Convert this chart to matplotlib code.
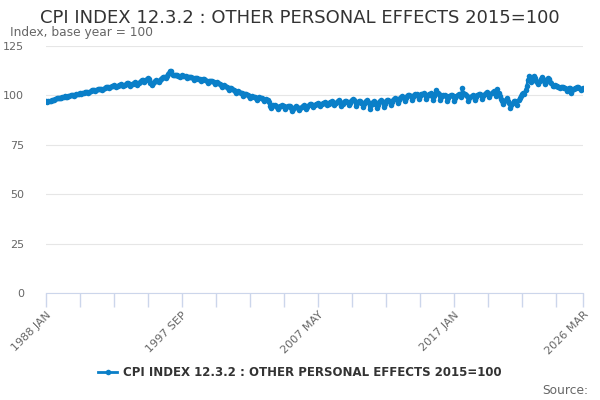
import numpy as np
import matplotlib
matplotlib.use('Agg')
import matplotlib.pyplot as plt

TITLE = 'CPI INDEX 12.3.2 : OTHER PERSONAL EFFECTS 2015=100'
SERIES_NAME = 'CPI INDEX 12.3.2 : OTHER PERSONAL EFFECTS 2015=100'

# monthly index values, 1988 JAN .. 2026 MAR
y1988 = [97.0, 96.8, 97.0, 97.2, 97.4, 97.6, 97.5, 97.9, 98.2, 98.5, 98.6, 98.8]
y1989 = [98.6, 98.9, 99.1, 99.3, 99.5, 99.4, 99.2, 99.6, 99.9, 100.1, 100.3, 100.2]
y1990 = [99.9, 100.2, 100.5, 100.7, 100.9, 101.0, 100.6, 101.0, 101.4, 101.6, 101.8, 101.7]
y1991 = [101.3, 101.8, 102.2, 102.5, 102.8, 102.6, 102.1, 102.7, 103.1, 103.4, 103.3, 103.2]
y1992 = [102.6, 103.2, 103.7, 104.0, 104.3, 104.1, 103.5, 104.2, 104.6, 104.9, 105.1, 104.8]
y1993 = [104.0, 104.7, 105.2, 105.5, 105.8, 105.4, 104.6, 105.3, 105.8, 106.1, 106.3, 106.0]
y1994 = [105.0, 105.6, 106.0, 106.4, 106.7, 106.3, 105.5, 106.3, 106.9, 107.4, 107.8, 107.6]
y1995 = [107.0, 107.8, 108.3, 108.6, 108.4, 106.5, 105.2, 106.3, 107.0, 107.4, 107.6, 107.3]
y1996 = [107.0, 107.8, 108.5, 109.0, 109.5, 109.3, 109.0, 110.0, 110.8, 111.5, 112.3, 112.6]
y1997 = [110.4, 110.2, 110.4, 110.5, 110.3, 110.0, 109.4, 109.8, 110.1, 110.0, 109.9, 109.6]
y1998 = [108.8, 109.2, 109.5, 109.4, 109.1, 108.7, 108.0, 108.6, 108.9, 108.8, 108.5, 108.2]
y1999 = [107.3, 107.9, 108.3, 108.1, 107.7, 107.2, 106.5, 107.1, 107.5, 107.4, 107.2, 106.9]
y2000 = [105.8, 106.4, 106.8, 106.5, 106.0, 105.3, 104.2, 104.9, 105.1, 104.6, 104.1, 103.8]
y2001 = [102.8, 103.5, 103.8, 103.4, 102.9, 102.3, 101.2, 101.9, 102.2, 101.8, 101.3, 101.0]
y2002 = [99.9, 100.6, 100.9, 100.5, 100.1, 99.6, 98.5, 99.3, 99.6, 99.3, 99.0, 98.8]
y2003 = [97.9, 98.6, 99.0, 98.8, 98.5, 98.0, 97.0, 97.8, 98.1, 97.6, 96.8, 94.5]
y2004 = [93.8, 94.5, 94.9, 95.1, 94.8, 94.3, 93.2, 94.0, 94.6, 95.0, 94.8, 94.5]
y2005 = [93.2, 94.0, 94.5, 94.8, 94.4, 93.6, 92.3, 93.3, 94.0, 94.4, 94.2, 93.8]
y2006 = [92.6, 93.6, 94.3, 94.8, 95.0, 94.4, 93.3, 94.3, 95.0, 95.4, 95.5, 95.1]
y2007 = [94.2, 95.0, 95.6, 95.9, 96.1, 95.5, 94.6, 95.5, 96.1, 96.4, 96.5, 96.1]
y2008 = [95.0, 95.9, 96.5, 96.8, 97.0, 96.3, 95.2, 96.2, 96.9, 97.3, 97.5, 96.9]
y2009 = [94.5, 95.8, 96.6, 97.1, 97.4, 96.6, 95.1, 96.4, 97.2, 97.8, 98.1, 97.5]
y2010 = [94.8, 96.0, 96.8, 97.2, 97.3, 96.2, 94.3, 95.8, 96.7, 97.3, 97.6, 96.8]
y2011 = [93.0, 95.0, 96.2, 96.8, 97.0, 95.7, 93.5, 95.3, 96.5, 97.1, 97.5, 96.7]
y2012 = [94.0, 95.8, 97.0, 97.6, 97.9, 96.8, 95.0, 96.8, 97.8, 98.4, 98.7, 98.1]
y2013 = [96.0, 97.6, 98.6, 99.2, 99.5, 98.6, 97.1, 98.7, 99.6, 100.1, 100.3, 99.7]
y2014 = [97.8, 99.3, 100.2, 100.6, 100.8, 99.8, 98.3, 99.7, 100.5, 100.9, 101.0, 100.4]
y2015 = [98.2, 99.6, 100.4, 100.8, 101.0, 99.9, 97.9, 99.5, 100.5, 102.8, 101.2, 100.6]
y2016 = [97.5, 99.0, 99.8, 100.2, 100.4, 99.6, 97.4, 98.9, 99.7, 100.1, 100.3, 99.8]
y2017 = [97.4, 98.9, 99.9, 100.4, 100.8, 100.1, 99.0, 103.6, 101.0, 100.6, 100.4, 99.7]
y2018 = [97.0, 98.5, 99.3, 99.8, 100.2, 99.5, 97.8, 99.2, 100.0, 100.5, 100.8, 100.2]
y2019 = [98.4, 99.9, 100.8, 101.2, 101.5, 100.8, 99.0, 100.5, 101.3, 101.8, 102.1, 101.4]
y2020 = [99.6, 103.0, 101.2, 99.5, 98.0, 97.2, 95.8, 97.0, 97.9, 98.5, 97.4, 96.0]
y2021 = [93.4, 95.0, 96.2, 97.0, 97.4, 96.5, 95.3, 97.5, 98.6, 99.5, 100.6, 101.4]
y2022 = [100.6, 102.8, 104.6, 108.0, 109.8, 108.6, 107.0, 108.8, 110.0, 108.9, 107.4, 106.8]
y2023 = [105.8, 107.3, 108.4, 109.1, 108.3, 107.2, 106.0, 107.6, 108.9, 108.1, 107.0, 106.2]
y2024 = [104.6, 104.9, 105.2, 105.0, 104.7, 104.3, 103.9, 104.2, 104.5, 104.1, 103.8, 103.6]
y2025 = [102.4, 103.2, 103.6, 103.8, 101.2, 102.8, 103.3, 103.6, 103.9, 104.4, 104.2, 103.5]
y2026 = [102.6, 103.4, 103.8]

values = (y1988 + y1989 + y1990 + y1991 + y1992 + y1993 + y1994 + y1995 + y1996
          + y1997 + y1998 + y1999 + y2000 + y2001 + y2002 + y2003 + y2004 + y2005
          + y2006 + y2007 + y2008 + y2009 + y2010 + y2011 + y2012 + y2013 + y2014
          + y2015 + y2016 + y2017 + y2018 + y2019 + y2020 + y2021 + y2022 + y2023
          + y2024 + y2025 + y2026)

months = np.arange(len(values))
label_pos = [0, 116, 232, 348, len(values) - 1]
label_text = ['1988 JAN', '1997 SEP', '2007 MAY', '2017 JAN', '2026 MAR']
y_ticks = [0, 25, 50, 75, 100, 125]

blue = '#0a7fc8'
axis_col = '#ccd6eb'
grey = '#666666'

fig = plt.figure(figsize=(6, 4), dpi=100)
ax = fig.add_axes([46 / 600, 1 - 293 / 400, 537 / 600, 247 / 400])

ax.plot(months, values, color=blue, linewidth=2, marker='o', markersize=4,
        markeredgewidth=0, label=SERIES_NAME, zorder=3)

ax.set_xlim(0, len(values) - 1)
ax.set_ylim(0, 125)
ax.set_yticks(y_ticks)
ax.set_yticklabels([str(v) for v in y_ticks], color=grey, fontsize=8)
ax.tick_params(axis='y', length=0, pad=16)
ax.yaxis.grid(True, color='#e6e6e6', linewidth=0.8)
ax.set_axisbelow(True)

minor = list(range(0, len(values), 29)) + [len(values) - 1]
ax.set_xticks(minor, minor=True)
ax.set_xticks(label_pos)
ax.set_xticklabels(label_text, rotation=45, ha='right', rotation_mode='anchor',
                   color=grey, fontsize=8)
ax.tick_params(axis='x', which='both', length=10, color=axis_col, width=1, pad=2)

for s in ['top', 'right', 'left']:
    ax.spines[s].set_visible(False)
ax.spines['bottom'].set_color(axis_col)

fig.text(0.5, 1 - 18 / 400, TITLE, ha='center', va='center', fontsize=13, color='#333333')
fig.text(10 / 600, 1 - 32.5 / 400, 'Index, base year = 100', ha='left', va='center',
         fontsize=8.8, color=grey)

leg = fig.legend(loc='center', bbox_to_anchor=(0.5, 1 - 373 / 400), frameon=False,
                 fontsize=8.5, handlelength=1.6, handletextpad=0.5)
for t in leg.get_texts():
    t.set_color('#333333')
    t.set_fontweight('bold')

fig.text(588 / 600, 1 - 390 / 400, 'Source:', ha='right', va='center',
         fontsize=8.8, color=grey)

fig.savefig('out.png', dpi=100)
